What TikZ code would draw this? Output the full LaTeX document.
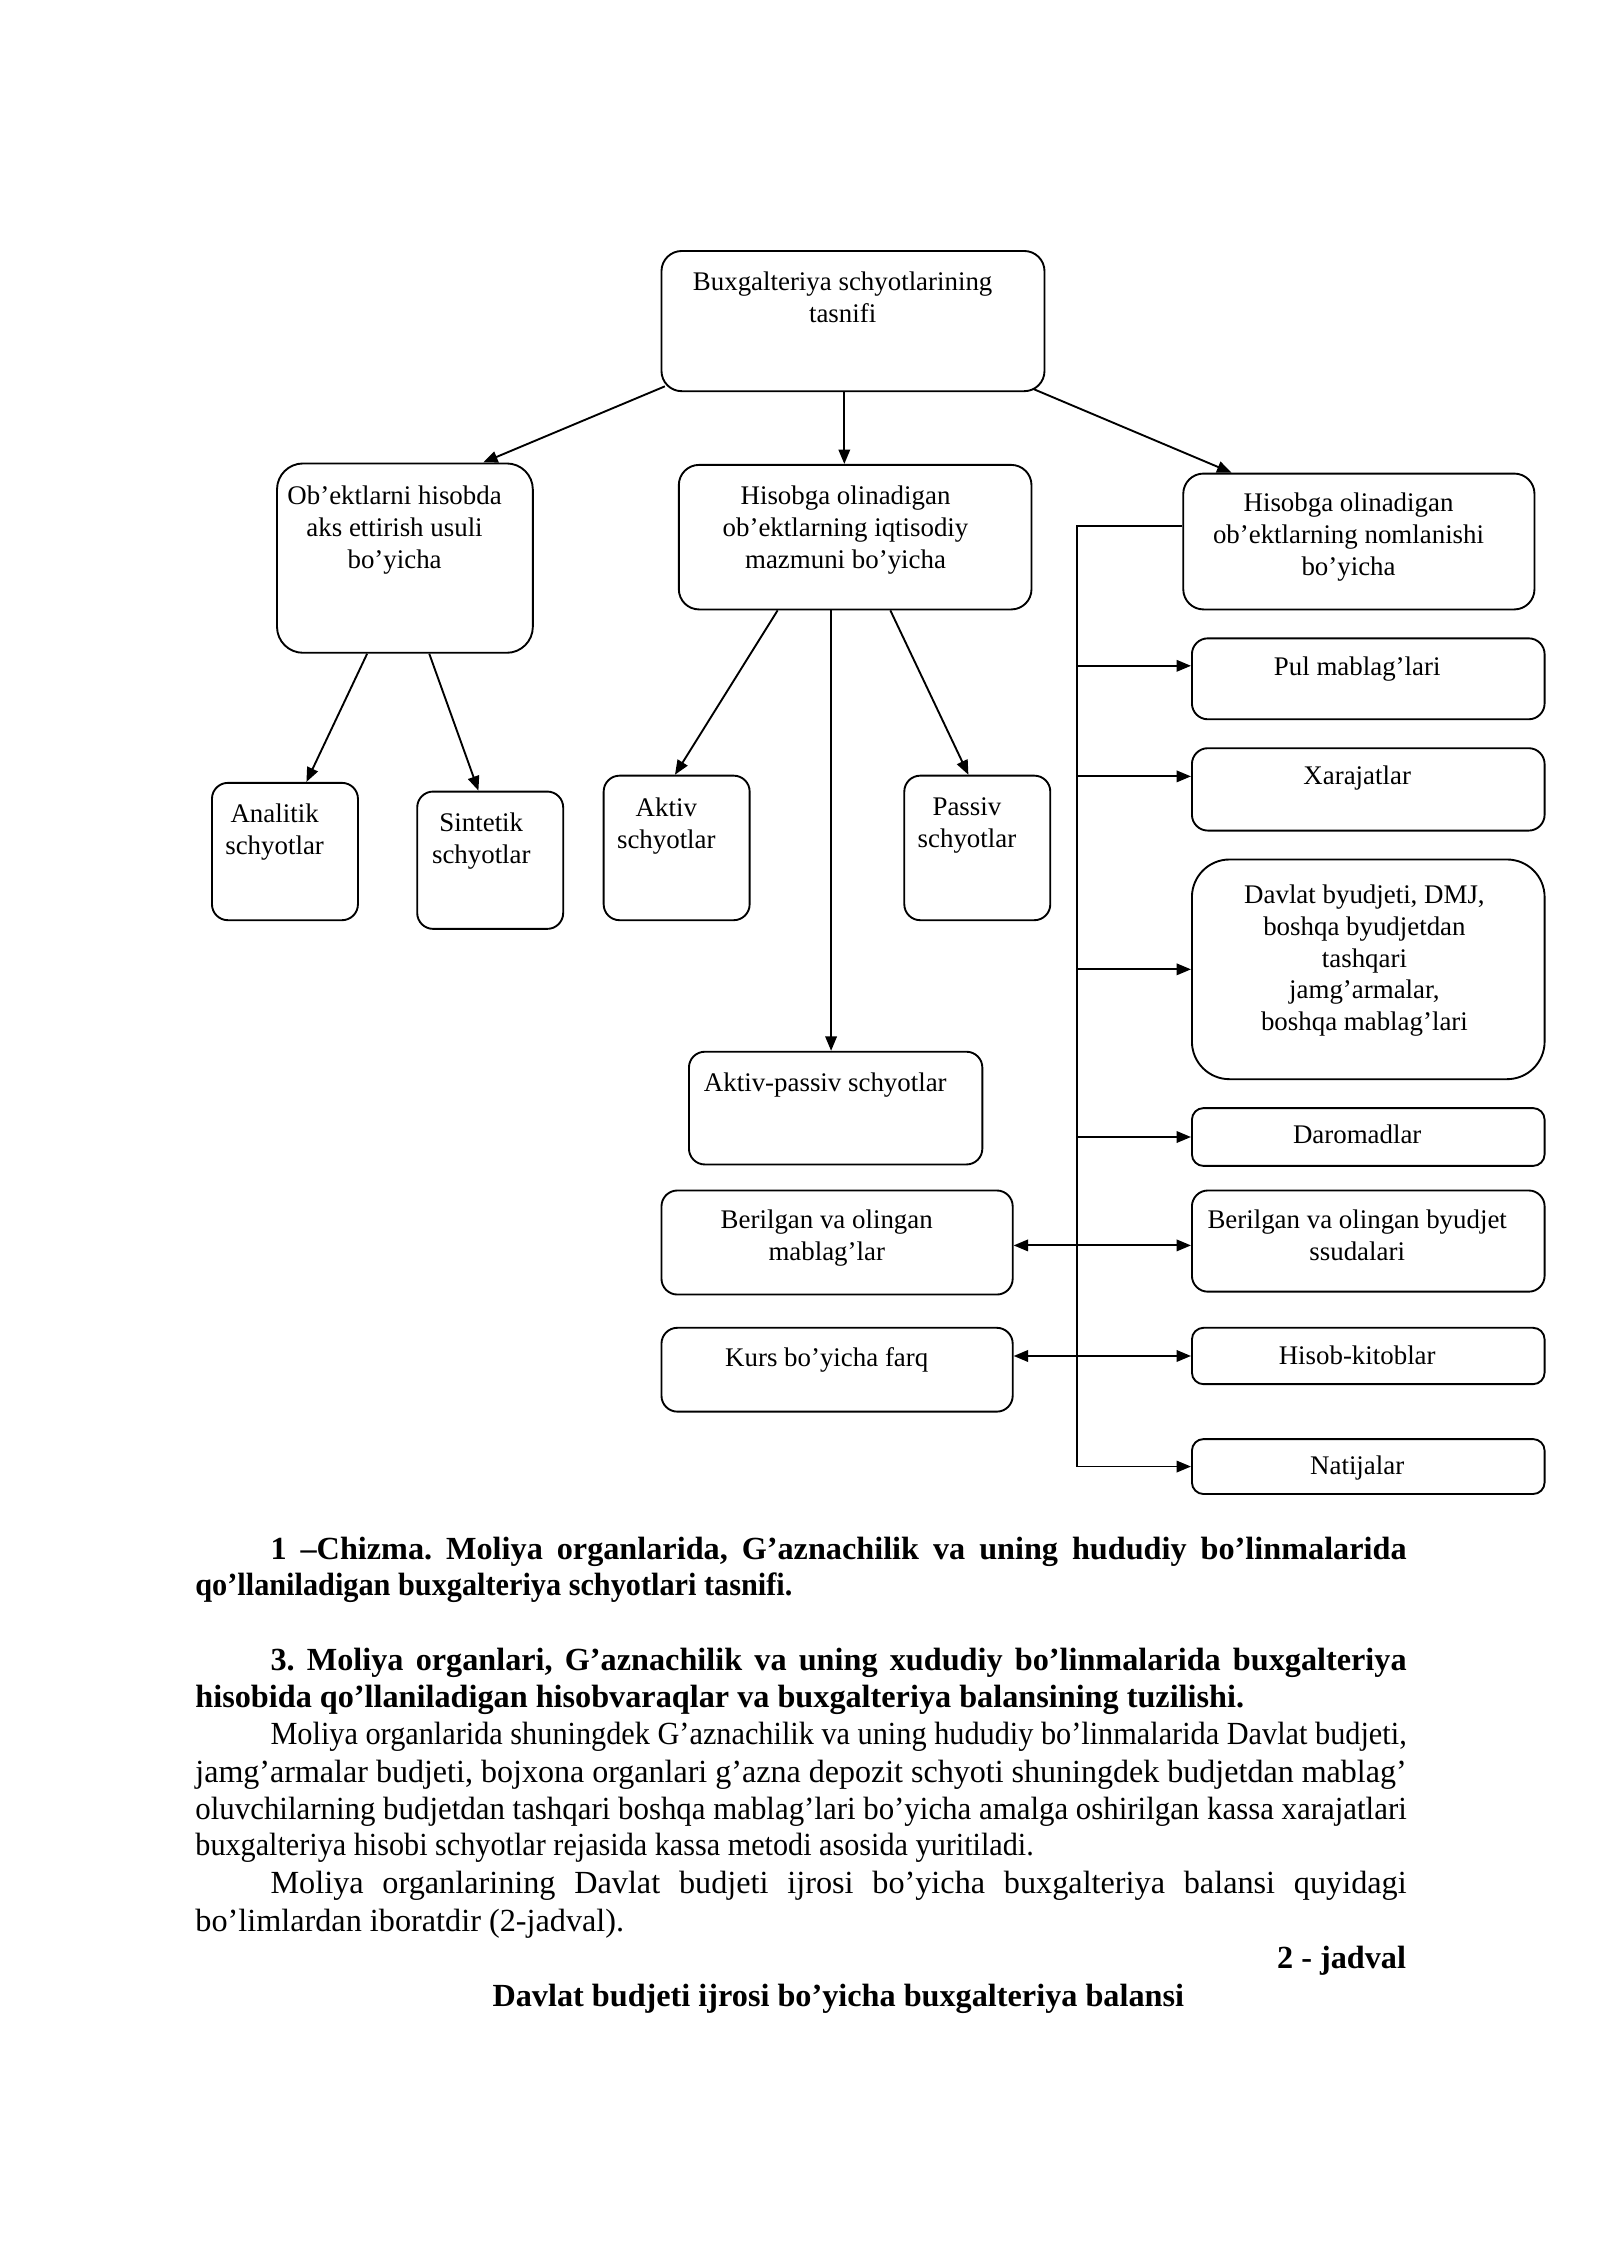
\documentclass[tikz,border=0pt]{standalone}
\usepackage{fontspec}
\setmainfont{Liberation Serif}
\usepackage{graphicx}
\usetikzlibrary{arrows.meta,calc}
\frenchspacing
\newlength\jlw
\newcommand\jline[2]{\settowidth\jlw{#2}\ifdim\jlw>#1\resizebox{#1}{\height}{#2}\else\makebox[#1][s]{#2}\fi}
\newcommand\sqline[2]{\resizebox{#1}{\height}{#2}}
\tikzset{
  bx/.style={draw, line width=1.3pt, rounded corners=11pt, inner sep=0pt, anchor=north west},
  txt/.style={align=center, inner sep=0pt, anchor=north, font=\fontsize{18.6}{22}\selectfont},
  ln/.style={line width=1.3pt},
  arr/.style={line width=1.3pt, -{Triangle[length=10pt,width=8pt]}},
  darr/.style={line width=1.3pt, {Triangle[length=10pt,width=8pt]}-{Triangle[length=10pt,width=8pt]}},
  body/.style={inner sep=0pt, anchor=base west, font=\fontsize{22.3}{25.7}\selectfont},
  bbody/.style={body, font=\fontsize{22.3}{25.7}\selectfont\bfseries}
}
\begin{document}
\begin{tikzpicture}[x=1pt,y=-1pt]
\useasboundingbox[fill=white] (0,0) rectangle (1107,1565);
% boxes
\node[bx, rounded corners=14pt, minimum width=265pt, minimum height=97pt] (top) at (457,173) {};
\node[bx, rounded corners=18pt, minimum width=177pt, minimum height=131pt] (obj) at (191,320) {};
\node[bx, rounded corners=14pt, minimum width=244pt, minimum height=100pt] (mid) at (469,321) {};
\node[bx, rounded corners=14pt, minimum width=243pt, minimum height=94pt] (name) at (818,327) {};
\node[bx, minimum width=101pt, minimum height=95pt] (anal) at (146,541) {};
\node[bx, minimum width=101pt, minimum height=95pt] (sint) at (288,547) {};
\node[bx, minimum width=101pt, minimum height=100pt] (akt) at (417,536) {};
\node[bx, minimum width=101pt, minimum height=100pt] (pas) at (625,536) {};
\node[bx, minimum width=203pt, minimum height=78pt] (ap) at (476,727) {};
\node[bx, minimum width=243pt, minimum height=72pt] (bm) at (457,823) {};
\node[bx, minimum width=243pt, minimum height=58pt] (kurs) at (457,918) {};
\node[bx, minimum width=244pt, minimum height=56pt] (pul) at (824,441) {};
\node[bx, minimum width=244pt, minimum height=57pt] (xar) at (824,517) {};
\node[bx, rounded corners=26pt, minimum width=244pt, minimum height=152pt] (dav) at (824,594) {};
\node[bx, rounded corners=8pt, minimum width=244pt, minimum height=40pt] (dar) at (824,766) {};
\node[bx, minimum width=244pt, minimum height=70pt] (bs) at (824,823) {};
\node[bx, rounded corners=8pt, minimum width=244pt, minimum height=39pt] (hk) at (824,918) {};
\node[bx, rounded corners=8pt, minimum width=244pt, minimum height=38pt] (nat) at (824,995) {};
% box texts
\node[txt] (topt) at (583,188) {Buxgalteriya schyotlarining\\tasnifi};
\node[txt] (objt) at (273,336) {Ob’ektlarni hisobda\\aks ettirish usuli\\bo’yicha};
\node[txt] (midt) at (585,336) {Hisobga olinadigan\\ob’ektlarning iqtisodiy\\mazmuni bo’yicha};
\node[txt] (namet) at (933,341) {Hisobga olinadigan\\ob’ektlarning nomlanishi\\bo’yicha};
\node[txt] (analt) at (190,556) {Analitik\\schyotlar};
\node[txt] (sintt) at (333,562) {Sintetik\\schyotlar};
\node[txt] (aktt) at (461,552) {Aktiv\\schyotlar};
\node[txt] (past) at (669,552) {Passiv\\schyotlar};
\node[txt] (apt) at (571,742) {Aktiv-passiv schyotlar};
\node[txt] (bmt) at (572,837) {Berilgan va olingan\\mablag’lar};
\node[txt] (kurst) at (572,932) {Kurs bo’yicha farq};
\node[txt] (pult) at (939,454) {Pul mablag’lari};
\node[txt] (xart) at (939,530) {Xarajatlar};
\node[txt] (davt) at (944,612) {Davlat byudjeti, DMJ,\\boshqa byudjetdan\\tashqari\\jamg’armalar,\\boshqa mablag’lari};
\node[txt] (dart) at (939,778) {Daromadlar};
\node[txt] (bst) at (939,837) {Berilgan va olingan byudjet\\ssudalari};
\node[txt] (hkt) at (939,931) {Hisob-kitoblar};
\node[txt] (natt) at (939,1007) {Natijalar};
% connectors from top
\draw[arr] ([xshift=3pt,yshift=4pt]top.south west) -- ([xshift=-35pt]obj.north east);
\coordinate (tm) at ([xshift=-6pt]top.south);
\draw[arr] (tm) -- (tm |- mid.north);
\draw[arr] ([xshift=-8pt,yshift=2pt]top.south east) -- ([xshift=34pt]name.north west);
% second level
\draw[arr] ([xshift=63pt]obj.south west) -- ([xshift=66pt]anal.north west);
\draw[arr] ([xshift=106pt]obj.south west) -- ([xshift=43pt]sint.north west);
\draw[arr] ([xshift=69pt]mid.south west) -- ([xshift=50pt]akt.north west);
\draw[arr] ([xshift=147pt]mid.south west) -- ([xshift=45pt]pas.north west);
\coordinate (ms) at ([xshift=106pt]mid.south west);
\draw[arr] (ms) -- (ms |- ap.north);
% right bus
\coordinate (bt) at (745,364);
\coordinate (bb) at (bt |- nat.west);
\draw[ln] (bt -| name.west) -- (bt) -- (bb);
\coordinate (pa) at ([yshift=9pt]pul.west);
\draw[arr] (bt |- pa) -- (pa);
\coordinate (xa) at ([yshift=9pt]xar.west);
\draw[arr] (bt |- xa) -- (xa);
\draw[arr] (bt |- dav.west) -- (dav.west);
\draw[arr] (bt |- dar.west) -- (dar.west);
\draw[arr] (bb) -- (nat.west);
\coordinate (d1) at ([yshift=-3pt]bs.west);
\draw[darr] (d1 -| bm.east) -- (d1);
\draw[darr] (hk.west -| kurs.east) -- (hk.west);
% body text
\node[bbody] (l1) at (187,1079) {\jline{786pt}{1 –Chizma. Moliya organlarida, G’aznachilik va uning hududiy bo’linmalarida}};
\node[bbody] (l2) at (135,1104) {\sqline{413pt}{qo’llaniladigan buxgalteriya schyotlari tasnifi.}};
\node[bbody] (l3) at (187,1156) {\jline{786pt}{3. Moliya organlari, G’aznachilik va uning xududiy bo’linmalarida buxgalteriya}};
\node[bbody] (l4) at (135,1181) {hisobida qo’llaniladigan hisobvaraqlar va buxgalteriya balansining tuzilishi.};
\node[body] (l5) at (187,1207) {\jline{786pt}{Moliya organlarida shuningdek G’aznachilik va uning hududiy bo’linmalarida Davlat budjeti,}};
\node[body] (l6) at (135,1233) {\jline{838pt}{jamg’armalar budjeti, bojxona organlari g’azna depozit schyoti shuningdek budjetdan mablag’}};
\node[body] (l7) at (135,1259) {\jline{838pt}{oluvchilarning budjetdan tashqari boshqa mablag’lari bo’yicha amalga oshirilgan kassa xarajatlari}};
\node[body] (l8) at (135,1284) {\sqline{580pt}{buxgalteriya hisobi schyotlar rejasida kassa metodi asosida yuritiladi.}};
\node[body] (l9) at (187,1310) {\jline{786pt}{Moliya organlarining Davlat budjeti ijrosi bo’yicha buxgalteriya balansi quyidagi}};
\node[body] (l10) at (135,1336) {bo’limlardan iboratdir (2-jadval).};
\node[bbody, anchor=base east] (l11) at (973,1362) {2 - jadval};
\node[bbody, anchor=base] (l12) at (580,1388) {Davlat budjeti ijrosi bo’yicha buxgalteriya balansi};
\end{tikzpicture}
\end{document}
